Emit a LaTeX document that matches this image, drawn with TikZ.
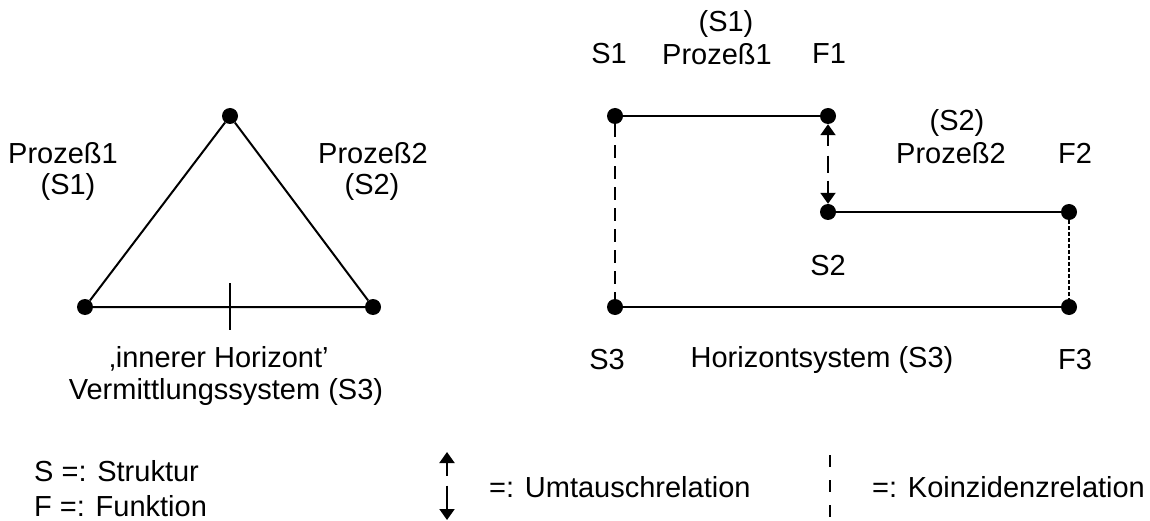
\documentclass[tikz,border=0pt]{standalone}
\usepackage{fontspec}
\setmainfont{Liberation Sans}
\usetikzlibrary{arrows.meta}
\begin{document}
\begin{tikzpicture}[x=1pt,y=-1pt,
  dot/.style={circle,fill=black,inner sep=0pt,minimum size=16pt},
  lbl/.style={font=\fontsize{29}{32}\selectfont,inner sep=0pt,anchor=center},
  lnk/.style={line width=2pt},
  coarse/.style={lnk,dash pattern=on 13pt off 8pt},
  fine/.style={lnk,dash pattern=on 4pt off 2pt},
  tip/.style={Triangle[length=11pt,width=15pt]},
  xchg/.style={lnk,{Triangle[length=11pt,width=15pt]}-{Triangle[length=11pt,width=15pt]}}]
\useasboundingbox (0,0) rectangle (1150,521);
% left triangle
\node[dot] (T) at (230,116) {};
\node[dot] (L) at (85,307) {};
\node[dot] (R) at (373,307) {};
\draw[lnk] (L) -- (T) -- (R) -- (L);
\coordinate (tk1) at (230,283);
\coordinate (tk2) at (230,330);
\draw[lnk] (tk1) -- (tk2);
\node[lbl] (p1) at (63,153) {Prozeß1};
\node[lbl] (p1s) at (68,187) {(S1)};
\node[lbl] (p2) at (373,153) {Prozeß2};
\node[lbl] (p2s) at (372,187) {(S2)};
\node[lbl] (ih) at (219,359) {‚innerer Horizont’};
\node[lbl] (vs) at (226,392) {Vermittlungssystem (S3)};
% right diagram
\node[dot] (S1) at (615,116) {};
\node[dot] (F1) at (828,116) {};
\node[dot] (S2) at (828,212) {};
\node[dot] (F2) at (1069,212) {};
\node[dot] (S3) at (615,307) {};
\node[dot] (F3) at (1069,307) {};
\draw[lnk] (S1) -- (F1);
\draw[lnk] (S2) -- (F2);
\draw[lnk] (S3) -- (F3);
\draw[coarse] (S1) -- (S3);
\draw[fine] (F2) -- (F3);
\draw[xchg,dash pattern=on 11pt off 10pt on 17pt off 8pt on 30pt] (F1) -- (S2);
\node[lbl] (tS1) at (609,54) {S1};
\node[lbl] (tP1s) at (726,24) {(S1)};
\node[lbl] (tP1) at (717,54) {Prozeß1};
\node[lbl] (tF1) at (829,54) {F1};
\node[lbl] (tP2s) at (957,123) {(S2)};
\node[lbl] (tP2) at (951,153) {Prozeß2};
\node[lbl] (tF2) at (1075,153) {F2};
\node[lbl] (tS2) at (828,266) {S2};
\node[lbl] (tS3) at (607,360) {S3};
\node[lbl] (tH) at (822,360) {Horizontsystem (S3)};
\node[lbl] (tF3) at (1075,360) {F3};
% legend
\node[lbl,anchor=west] (lgS) at (34,471) {S =: Struktur};
\node[lbl,anchor=west] (lgF) at (34,506) {F =: Funktion};
\coordinate (ua) at (447,452);
\coordinate (ub) at (447,520);
\draw[xchg,dash pattern=on 13pt off 10pt on 30pt] (ua) -- (ub);
\node[lbl,anchor=west] (lgU) at (489,487) {=: Umtauschrelation};
\coordinate (ka) at (830,455);
\coordinate (kb) at (830,517);
\draw[lnk,line width=1.6pt,dash pattern=on 12pt off 13pt] (ka) -- (kb);
\node[lbl,anchor=west] (lgK) at (872,487) {=: Koinzidenzrelation};
\end{tikzpicture}
\end{document}
